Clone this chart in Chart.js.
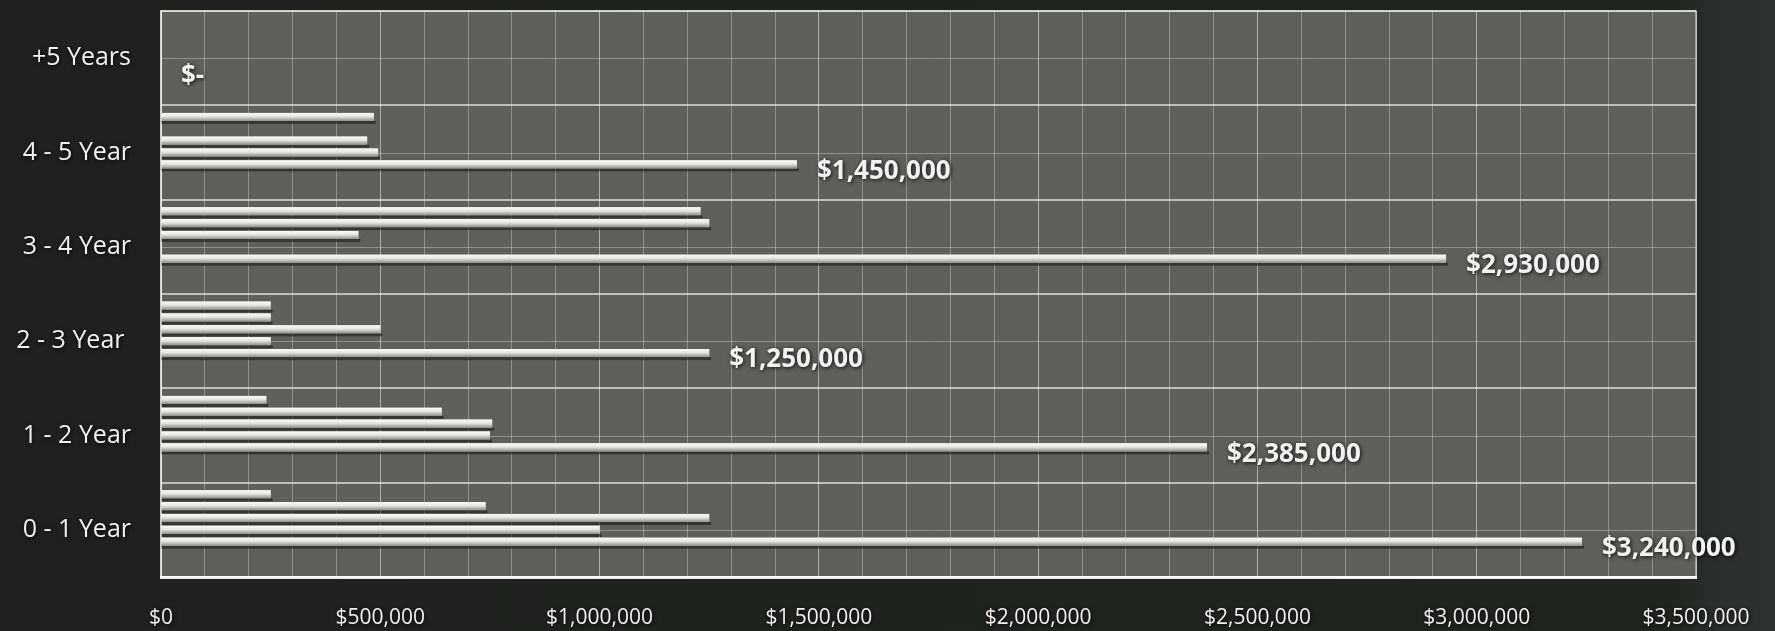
<!DOCTYPE html>
<html lang="en">
<head>
<meta charset="UTF-8">
<title>Receivables by age</title>
<script src="https://cdn.jsdelivr.net/npm/chart.js"></script>
<style>
  html, body { margin: 0; padding: 0; }
  body {
    width: 1775px; height: 631px; overflow: hidden;
    background: linear-gradient(to right, #1e211d 0%, #20241f 94%, #2a2f2b 96.5%, #2d322e 100%);
  }
  canvas { display: block; }
</style>
</head>
<body>
<canvas id="ageChart" width="1775" height="631"></canvas>
<script>
// age buckets, listed top to bottom
var categories = ['+5 Years', '4 - 5 Year', '3 - 4 Year', '2 - 3 Year ', '1 - 2 Year', '0 - 1 Year'];

// four breakdown series and the bucket total
var seriesA = [0, 485000, 1230000, 250000, 240000, 250000];
var seriesB = [0, 0, 1250000, 250000, 640000, 740000];
var seriesC = [0, 470000, 450000, 500000, 755000, 1250000];
var seriesD = [0, 495000, 0, 250000, 750000, 1000000];
var totals = [0, 1450000, 2930000, 1250000, 2385000, 3240000];

// labelled x ticks (grid runs every 100,000)
var xTickValues = [0, 500000, 1000000, 1500000, 2000000, 2500000, 3000000, 3500000];

var TOTAL_INDEX = 4;
var textColor = '#f1f1ef';

function money(v) {
    return v === 0 ? '$-' : '$' + v.toLocaleString('en-US');
}

var plotBackground = {
    id: 'plotBackground',
    beforeDraw: function (chart) {
        var a = chart.chartArea, ctx = chart.ctx;
        ctx.save();
        ctx.fillStyle = '#5d605b';
        ctx.fillRect(a.left, a.top, a.right - a.left, a.bottom - a.top);
        ctx.restore();
    },
    beforeDatasetsDraw: function (chart) {
        var a = chart.chartArea, ctx = chart.ctx, y = chart.scales.y;
        ctx.save();
        // faint rule through the middle of every bucket
        ctx.strokeStyle = 'rgba(255,255,255,0.3)';
        ctx.lineWidth = 1;
        categories.forEach(function (c, i) {
            var py = Math.round(y.getPixelForValue(i)) + 0.5;
            ctx.beginPath();
            ctx.moveTo(a.left, py);
            ctx.lineTo(a.right, py);
            ctx.stroke();
        });
        ctx.strokeStyle = 'rgba(255,255,255,0.55)';
        ctx.lineWidth = 1.5;
        ctx.strokeRect(a.left, a.top, a.right - a.left, a.bottom - a.top);
        ctx.restore();
    }
};

// gives the bars a rounded tube look with a drop shadow
var barShading = {
    id: 'barShading',
    afterDatasetsDraw: function (chart) {
        var ctx = chart.ctx;
        ctx.save();
        chart.data.datasets.forEach(function (ds, di) {
            chart.getDatasetMeta(di).data.forEach(function (bar) {
                var p = bar.getProps(['x', 'y', 'base', 'height'], true);
                var w = p.x - p.base;
                if (w <= 0) return;
                var top = p.y - p.height / 2;
                ctx.fillStyle = 'rgba(25,27,24,0.6)';
                ctx.fillRect(p.base, top + p.height, w + 2, 3);
                var g = ctx.createLinearGradient(0, top, 0, top + p.height);
                g.addColorStop(0, '#fafaf8');
                g.addColorStop(0.45, '#e6e7e3');
                g.addColorStop(1, '#8c8e89');
                ctx.fillStyle = g;
                ctx.fillRect(p.base, top, w, p.height);
            });
        });
        ctx.restore();
    }
};

// total labels; the shadow set here also carries onto the tick labels drawn next
var totalLabels = {
    id: 'totalLabels',
    afterDatasetsDraw: function (chart) {
        var ctx = chart.ctx;
        ctx.shadowColor = 'rgba(0,0,0,0.85)';
        ctx.shadowBlur = 4;
        ctx.shadowOffsetX = 1;
        ctx.shadowOffsetY = 1;
        ctx.save();
        ctx.font = 'bold 26px "Open Sans"';
        ctx.fillStyle = textColor;
        ctx.textAlign = 'left';
        ctx.textBaseline = 'middle';
        chart.getDatasetMeta(TOTAL_INDEX).data.forEach(function (bar, i) {
            var p = bar.getProps(['x', 'y'], true);
            ctx.fillText(money(totals[i]), p.x + 20, p.y + 7);
        });
        ctx.restore();
    },
    afterDraw: function (chart) {
        var ctx = chart.ctx;
        ctx.shadowColor = 'rgba(0,0,0,0)';
        ctx.shadowBlur = 0;
        ctx.shadowOffsetX = 0;
        ctx.shadowOffsetY = 0;
    }
};

function barSet(label, data) {
    return {
        label: label,
        data: data,
        backgroundColor: '#dcddd9',
        borderWidth: 0,
        barPercentage: 0.68,
        categoryPercentage: 0.88
    };
}

var ctx = document.getElementById('ageChart').getContext('2d');
new Chart(ctx, {
    type: 'bar',
    data: {
        labels: categories,
        datasets: [
            barSet('A', seriesA),
            barSet('B', seriesB),
            barSet('C', seriesC),
            barSet('D', seriesD),
            barSet('Total', totals),
            barSet('', []),
            barSet('', [])
        ]
    },
    options: {
        indexAxis: 'y',
        responsive: false,
        animation: false,
        devicePixelRatio: 1,
        layout: { padding: { top: 11, right: 79, left: 0, bottom: 0 } },
        plugins: {
            legend: { display: false },
            tooltip: { enabled: false }
        },
        scales: {
            x: {
                min: 0,
                max: 3500000,
                ticks: {
                    stepSize: 100000,
                    autoSkip: false,
                    maxRotation: 0,
                    padding: 28,
                    z: 1,
                    color: textColor,
                    font: { family: 'Open Sans', size: 21 },
                    callback: function (v) {
                        return xTickValues.indexOf(v) >= 0 ? '$' + v.toLocaleString('en-US') : '';
                    }
                },
                grid: {
                    drawTicks: false,
                    color: function (c) {
                        return xTickValues.indexOf(c.tick.value) >= 0 ? 'rgba(255,255,255,0.5)' : 'rgba(255,255,255,0.3)';
                    }
                },
                border: { color: 'rgba(255,255,255,0.9)', width: 3 },
                afterFit: function (s) {
                    s.height = 54;
                    s.paddingLeft = 0;
                    s.paddingRight = 0;
                }
            },
            y: {
                ticks: {
                    padding: 30,
                    z: 1,
                    color: textColor,
                    font: { family: 'Open Sans', size: 25 }
                },
                grid: {
                    offset: true,
                    drawTicks: false,
                    color: 'rgba(255,255,255,0.6)',
                    lineWidth: 2
                },
                border: { color: 'rgba(255,255,255,0.6)', width: 2 },
                afterFit: function (s) {
                    s.width = 161;
                    s.paddingTop = 0;
                    s.paddingBottom = 0;
                }
            }
        }
    },
    plugins: [plotBackground, barShading, totalLabels]
});
</script>
</body>
</html>
